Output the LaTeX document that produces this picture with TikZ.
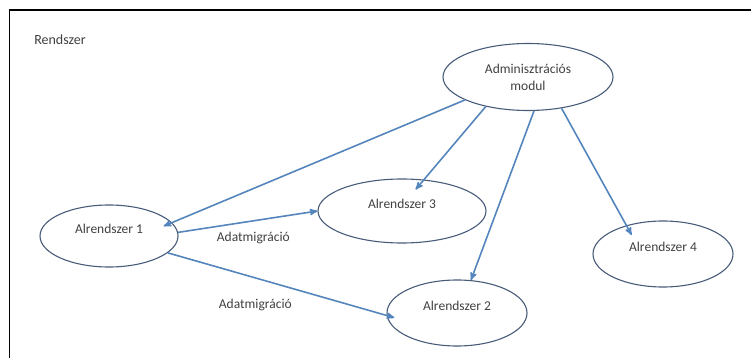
\documentclass[tikz,border=0pt]{standalone}
\usepackage{fontspec}
\setmainfont{Carlito}
\usetikzlibrary{arrows,shapes.geometric}
\definecolor{linkblue}{RGB}{84,133,188}
\definecolor{ovalline}{RGB}{72,92,122}
\definecolor{labelgray}{RGB}{64,64,64}

\begin{document}
\begin{tikzpicture}[x=1pt,y=-1pt,->,>=stealth',
  sys node/.style={ellipse,draw=ovalline,line width=1.1pt,text=labelgray,
  font=\fontsize{13.5}{17}\selectfont,inner sep=0pt},
  sub node/.style={sys node,text height=9pt,text depth=15pt},
  link/.style={draw=linkblue,line width=1.6pt}]

  \useasboundingbox (0,0) rectangle (751,358);
  \draw[-,line width=1.8pt] (9.5,358) -- (9.5,10) -- (751,10);
  \node[text=labelgray,font=\fontsize{14}{17}\selectfont] (rsz) at (60,40) {Rendszer};

  \node[sys node,align=center,minimum width=170pt,minimum height=67pt] (admin) at (528,77)
    {Adminisztrációs\\modul};
  \node[sub node,minimum width=138pt,minimum height=62pt] (alr1) at (109,236) {Alrendszer 1};
  \node[sub node,minimum width=168pt,minimum height=64pt] (alr3) at (402,211) {Alrendszer 3};
  \node[sub node,minimum width=140pt,minimum height=66pt] (alr4) at (663,254) {Alrendszer 4};
  \node[sub node,minimum width=140pt,minimum height=66pt] (alr2) at (457,313) {Alrendszer 2};

  \path[every edge/.append style={link},
    every node/.style={font=\fontsize{13.5}{17}\selectfont,text=labelgray}]

    %admin modul to the subsystems%
    (admin.200) edge [shorten >=-9pt] (alr1.12)
    (admin.215) edge [shorten >=-13pt] (alr3.55)
    (admin.280) edge (alr2.67)
    (admin.317) edge [shorten >=-11pt] (alr4.142)

    %data migration from Alrendszer 1%
    (alr1.3) edge node[pos=0.54,below=7pt] {Adatmigráció} (alr3.180)
    (alr1.344) edge [shorten >=-8pt] node[pos=0.4,below=17pt] {Adatmigráció} (alr2.182);

\end{tikzpicture}
\end{document}
